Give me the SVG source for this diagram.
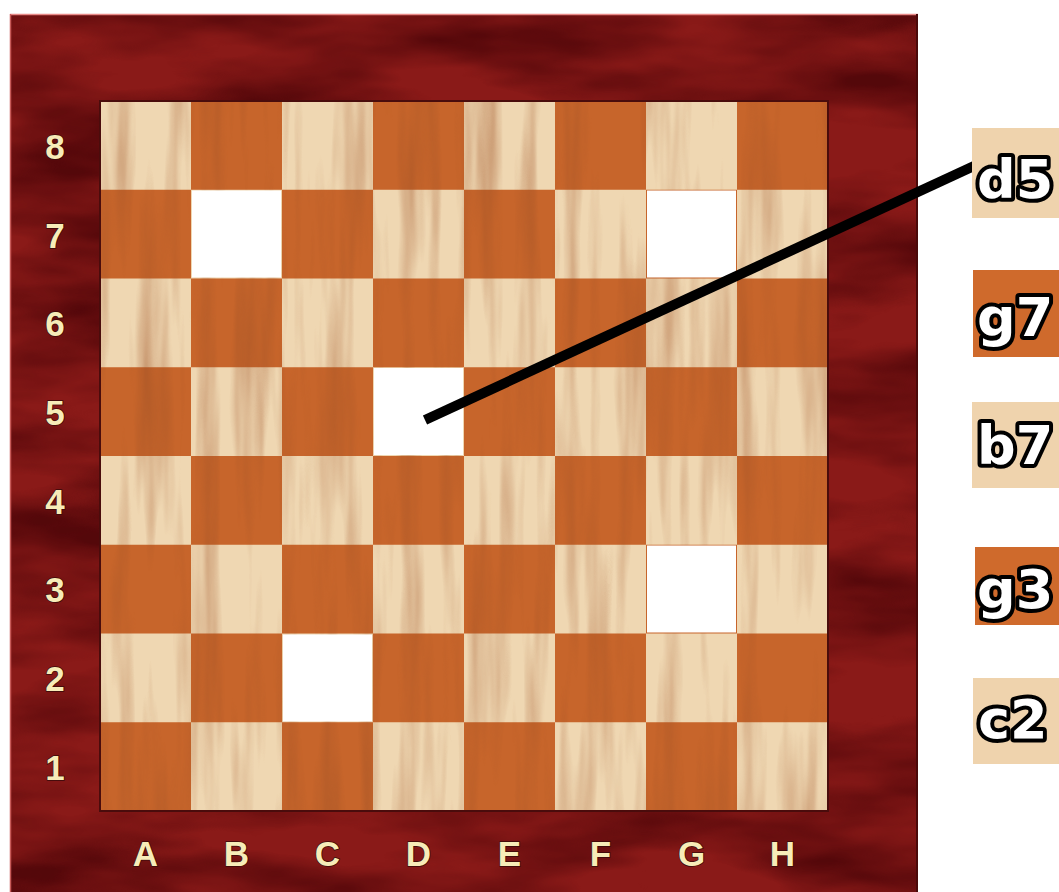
<svg xmlns="http://www.w3.org/2000/svg" width="1059" height="892" viewBox="0 0 1059 892">
<style>
.rank,.file{font-family:"Liberation Sans",Arial,sans-serif;font-weight:bold;font-size:35px;fill:#f7ecb8;stroke:#3a0a0a;stroke-width:1.5;paint-order:stroke;text-anchor:middle}
.lbl{font-family:"DejaVu Sans","Liberation Sans",sans-serif;font-weight:bold;font-size:54px;fill:#ffffff;stroke:#000;stroke-width:8;stroke-linejoin:round;paint-order:stroke}
.lt{fill:#efd7b2}
.dk{fill:#c7652b}
.hl{fill:#ffffff}
.boxL{fill:#efd3ad}
.boxD{fill:#cf6a2c}
</style>
<defs>
<filter id="burl" x="0" y="0" width="100%" height="100%" color-interpolation-filters="sRGB">
<feTurbulence type="fractalNoise" baseFrequency="0.004 0.014" numOctaves="4" seed="7" result="n"/>
<feColorMatrix in="n" type="matrix" values="0 0 0 0 0.33  0 0 0 0 0.03  0 0 0 0 0.04  2.6 0 0 0 -1.0" result="d"/>
<feComposite in="d" in2="SourceGraphic" operator="in" result="t"/>
<feMerge><feMergeNode in="SourceGraphic"/><feMergeNode in="t"/></feMerge>
</filter>
<filter id="grain" x="0" y="0" width="100%" height="100%" color-interpolation-filters="sRGB">
<feTurbulence type="fractalNoise" baseFrequency="0.05 0.004" numOctaves="3" seed="2" result="n"/>
<feColorMatrix in="n" type="matrix" values="0 0 0 0 0.62  0 0 0 0 0.32  0 0 0 0 0.15  0.9 0 0 0 -0.4" result="d"/>
<feComposite in="d" in2="SourceGraphic" operator="in" result="t"/>
<feMerge><feMergeNode in="SourceGraphic"/><feMergeNode in="t"/></feMerge>
</filter>
</defs>
<rect width="1059" height="892" fill="#ffffff"/>
<g id="frame">
<rect x="10" y="14" width="908" height="890" fill="#8a1a18" filter="url(#burl)"/>
<line x1="10" y1="14.5" x2="918" y2="14.5" stroke="#e88a88" stroke-width="1.5"/>
<line x1="10.5" y1="14" x2="10.5" y2="892" stroke="#c85a58" stroke-width="1.5"/>
<line x1="917" y1="14" x2="917" y2="892" stroke="#4a0a0a" stroke-width="2"/>
</g>
<g id="board" filter="url(#grain)">
<rect x="100" y="101" width="728" height="710" class="lt"/>
<rect x="191" y="101" width="91" height="88.75" class="dk"/><rect x="373" y="101" width="91" height="88.75" class="dk"/><rect x="555" y="101" width="91" height="88.75" class="dk"/><rect x="737" y="101" width="91" height="88.75" class="dk"/>
<rect x="100" y="189.75" width="91" height="88.75" class="dk"/><rect x="282" y="189.75" width="91" height="88.75" class="dk"/><rect x="464" y="189.75" width="91" height="88.75" class="dk"/><rect x="646" y="189.75" width="91" height="88.75" class="dk"/>
<rect x="191" y="278.5" width="91" height="88.75" class="dk"/><rect x="373" y="278.5" width="91" height="88.75" class="dk"/><rect x="555" y="278.5" width="91" height="88.75" class="dk"/><rect x="737" y="278.5" width="91" height="88.75" class="dk"/>
<rect x="100" y="367.25" width="91" height="88.75" class="dk"/><rect x="282" y="367.25" width="91" height="88.75" class="dk"/><rect x="464" y="367.25" width="91" height="88.75" class="dk"/><rect x="646" y="367.25" width="91" height="88.75" class="dk"/>
<rect x="191" y="456" width="91" height="88.75" class="dk"/><rect x="373" y="456" width="91" height="88.75" class="dk"/><rect x="555" y="456" width="91" height="88.75" class="dk"/><rect x="737" y="456" width="91" height="88.75" class="dk"/>
<rect x="100" y="544.75" width="91" height="88.75" class="dk"/><rect x="282" y="544.75" width="91" height="88.75" class="dk"/><rect x="464" y="544.75" width="91" height="88.75" class="dk"/><rect x="646" y="544.75" width="91" height="88.75" class="dk"/>
<rect x="191" y="633.5" width="91" height="88.75" class="dk"/><rect x="373" y="633.5" width="91" height="88.75" class="dk"/><rect x="555" y="633.5" width="91" height="88.75" class="dk"/><rect x="737" y="633.5" width="91" height="88.75" class="dk"/>
<rect x="100" y="722.25" width="91" height="88.75" class="dk"/><rect x="282" y="722.25" width="91" height="88.75" class="dk"/><rect x="464" y="722.25" width="91" height="88.75" class="dk"/><rect x="646" y="722.25" width="91" height="88.75" class="dk"/>
</g>
<rect x="100" y="101" width="728" height="710" fill="none" stroke="#4a0c0c" stroke-width="2"/>
<g id="highlights">
<rect id="sq-b7" x="192" y="190.5" width="89" height="87" class="hl"/>
<rect id="sq-g7" x="647" y="190.5" width="89" height="87" class="hl"/>
<rect id="sq-d5" x="374" y="368" width="89" height="87" class="hl"/>
<rect id="sq-g3" x="647" y="545.5" width="89" height="87" class="hl"/>
<rect id="sq-c2" x="283" y="634.5" width="89" height="87" class="hl"/>
</g>
<g id="ranks">
<text class="rank" x="55" y="159">8</text>
<text class="rank" x="55" y="247.5">7</text>
<text class="rank" x="55" y="336">6</text>
<text class="rank" x="55" y="425">5</text>
<text class="rank" x="55" y="513.5">4</text>
<text class="rank" x="55" y="602">3</text>
<text class="rank" x="55" y="691">2</text>
<text class="rank" x="55" y="779.5">1</text>
</g>
<g id="files">
<text class="file" x="145.5" y="866">A</text>
<text class="file" x="236.5" y="866">B</text>
<text class="file" x="327.5" y="866">C</text>
<text class="file" x="418.5" y="866">D</text>
<text class="file" x="509.5" y="866">E</text>
<text class="file" x="600.5" y="866">F</text>
<text class="file" x="691.5" y="866">G</text>
<text class="file" x="782.5" y="866">H</text>
</g>
<g id="connectors">
<line x1="425" y1="420" x2="974" y2="166" stroke="#000" stroke-width="10"/>
</g>
<g id="label-d5"><rect x="972" y="128" width="100" height="90" class="boxL"/><text class="lbl" x="977" y="198">d5</text></g>
<g id="label-g7"><rect x="973" y="270" width="100" height="87" class="boxD"/><text class="lbl" x="977" y="336">g7</text></g>
<g id="label-b7"><rect x="972" y="402" width="100" height="86" class="boxL"/><text class="lbl" x="977" y="464">b7</text></g>
<g id="label-g3"><rect x="975" y="547" width="100" height="78" class="boxD"/><text class="lbl" x="977" y="608">g3</text></g>
<g id="label-c2"><rect x="973" y="678" width="100" height="86" class="boxL"/><text class="lbl" x="978" y="738">c2</text></g>
</svg>
